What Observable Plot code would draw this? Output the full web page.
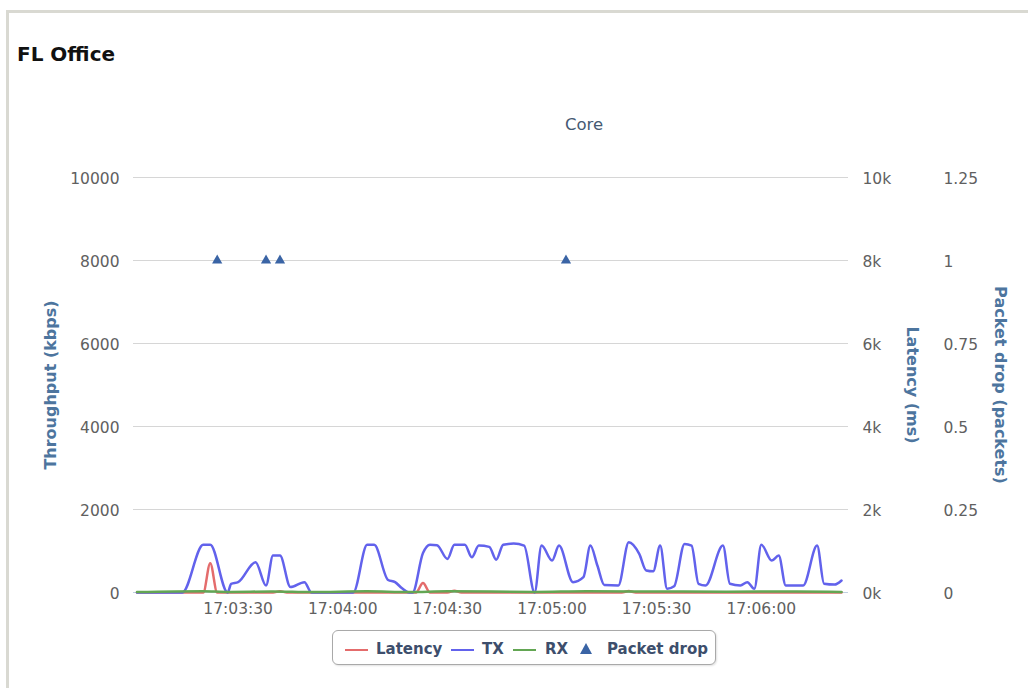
<!DOCTYPE html>
<html>
<head>
<meta charset="utf-8">
<script src="https://cdn.jsdelivr.net/npm/d3@7"></script>
<script src="https://cdn.jsdelivr.net/npm/@observablehq/plot@0.6"></script>
<style>
  body { margin: 0; background: #fff; font-family: "DejaVu Sans", sans-serif; }
  #wrap { position: relative; width: 1028px; height: 688px; overflow: hidden; background: #fff; }
  #frame { position: absolute; left: 6px; top: 9.5px; width: 1100px; height: 800px; border: 3.5px solid #d9d9d2; }
  #title { position: absolute; left: 17px; top: 42px; font-weight: bold; font-size: 20px; color: #111; white-space: nowrap; }
  #subtitle { position: absolute; left: 484px; width: 200px; text-align: center; top: 115px; font-size: 16.5px; color: #465a72; }
  #chart { position: absolute; left: 0; top: 150px; }
  #legend { position: absolute; left: 332px; top: 630px; width: 382px; height: 33px; border: 1.5px solid #a9a9a9; border-radius: 6px; background: #fff; box-shadow: 1px 1px 2px rgba(0,0,0,0.12); }
  #legend .sw { position: absolute; top: 17.5px; height: 2.5px; width: 23px; }
  #legend .lab { position: absolute; top: 9px; font-weight: bold; font-size: 15px; color: #3d4e6c; white-space: nowrap; }
  #legend .tri { position: absolute; top: 12px; width: 0; height: 0; border-left: 6.5px solid transparent; border-right: 6.5px solid transparent; border-bottom: 11px solid #3a64a5; }
</style>
</head>
<body>
<div id="wrap">
  <div id="frame"></div>
  <div id="title">FL Office</div>
  <div id="subtitle">Core</div>
  <div id="chart"></div>
  <div id="legend"></div>
</div>
<script>
// ---- data ----
const day = "2014-05-20T";
const xStart = "17:03:00";
const xEnd = "17:06:25";
const xTicks = ["17:03:30", "17:04:00", "17:04:30", "17:05:00", "17:05:30", "17:06:00"];
const yTicks = [0, 2000, 4000, 6000, 8000, 10000];
const packetPerUnit = 8000; // 1 packet on the right axis = 8000 on the throughput axis (1.25 -> 10000)

const seriesNames = ["Latency", "TX", "RX", "Packet drop"];
const seriesColors = ["#e46c6c", "#6262ec", "#63a653", "#3a64a5"];

const txTimes = ["17:03:01","17:03:14","17:03:20","17:03:22","17:03:27","17:03:28","17:03:30","17:03:35","17:03:38","17:03:40",
  "17:03:42","17:03:45","17:03:49","17:03:51","17:04:03","17:04:07","17:04:09","17:04:13","17:04:15","17:04:17",
  "17:04:19","17:04:20","17:04:23","17:04:25","17:04:27","17:04:30","17:04:32","17:04:35","17:04:37","17:04:39",
  "17:04:42","17:04:44","17:04:46","17:04:49","17:04:52","17:04:55","17:04:57","17:05:00","17:05:02","17:05:06",
  "17:05:09","17:05:11","17:05:13","17:05:15","17:05:19","17:05:22","17:05:25","17:05:27","17:05:29","17:05:31",
  "17:05:33","17:05:35","17:05:38","17:05:40","17:05:42","17:05:44","17:05:49","17:05:51","17:05:54","17:05:56",
  "17:05:58","17:06:00","17:06:03","17:06:05","17:06:07","17:06:09","17:06:12","17:06:16","17:06:18","17:06:21","17:06:23"];
const txValues = [0,0,1150,1150,0,210,250,730,170,890,
  890,130,250,0,0,1150,1150,300,250,100,
  0,0,950,1150,1140,810,1150,1150,850,1130,
  1100,790,1150,1180,1130,0,1130,770,1130,250,
  370,1130,650,180,170,1210,930,530,510,1130,
  90,150,1170,1130,210,170,1130,210,170,250,
  90,1150,770,890,170,170,170,1130,210,190,290];

const latTimes = ["17:03:01","17:03:20","17:03:22","17:03:24","17:03:40","17:03:42","17:03:44","17:04:21","17:04:23","17:04:25",
  "17:04:30","17:04:32","17:04:34","17:05:20","17:05:22","17:05:24","17:06:23"];
const latValues = [0,0,705,0,0,30,0,0,230,0,0,40,0,0,35,0,0];

const rxTimes = ["17:03:01","17:03:20","17:03:27","17:03:40","17:03:51","17:04:07","17:04:19","17:04:30","17:04:55","17:05:10",
  "17:05:30","17:05:50","17:06:10","17:06:23"];
const rxValues = [10,30,15,25,10,30,10,30,15,30,25,20,25,15];

const dropTimes = ["17:03:24","17:03:38","17:03:42","17:05:04"];
const dropValues = [1,1,1,1];

// ---- build ----
const parse = s => new Date(day + s + "Z");
const tx = txTimes.map((t, i) => ({time: parse(t), value: txValues[i]}));
const lat = latTimes.map((t, i) => ({time: parse(t), value: latValues[i]}));
const rx = rxTimes.map((t, i) => ({time: parse(t), value: rxValues[i]}));
const drops = dropTimes.map((t, i) => ({time: parse(t), value: dropValues[i]}));

const tickColor = "#606060";
const titleColor = "#4d759e";

const chart = Plot.plot({
  width: 1028,
  height: 470,
  marginLeft: 133,
  marginRight: 180,
  marginTop: 27,
  marginBottom: 28,
  style: {fontFamily: "DejaVu Sans, sans-serif", fontSize: "15.5px", background: "transparent", overflow: "visible"},
  x: {type: "utc", domain: [parse(xStart), parse(xEnd)]},
  y: {domain: [0, 10000]},
  marks: [
    Plot.gridY(yTicks, {stroke: "#d6d6d6", strokeOpacity: 1}),
    Plot.ruleY([0], {stroke: "#c0d0e0"}),
    Plot.axisY(yTicks, {anchor: "left", tickSize: 0, tickPadding: 14, dy: 2, fill: tickColor, label: null,
      tickFormat: d => String(d)}),
    Plot.axisY(yTicks, {anchor: "right", tickSize: 0, tickPadding: 14, dy: 2, fill: tickColor, label: null,
      tickFormat: d => (d / 1000) + "k"}),
    Plot.axisY(yTicks, {anchor: "right", tickSize: 0, tickPadding: 14, dx: 81, dy: 2, fill: tickColor, label: null,
      tickFormat: d => String(d / packetPerUnit)}),
    Plot.axisX(xTicks.map(parse), {anchor: "bottom", tickSize: 0, tickPadding: 10, fill: tickColor, label: null,
      tickFormat: d3.utcFormat("%H:%M:%S")}),
    Plot.line(lat, {x: "time", y: "value", stroke: seriesColors[0], strokeWidth: 2.5, curve: "monotone-x"}),
    Plot.line(tx, {x: "time", y: "value", stroke: seriesColors[1], strokeWidth: 2.5, curve: "monotone-x"}),
    Plot.line(rx, {x: "time", y: "value", stroke: seriesColors[2], strokeWidth: 2.5, curve: "monotone-x"}),
    Plot.dot(drops, {x: "time", y: d => d.value * packetPerUnit, symbol: "triangle", r: 3.8, fill: seriesColors[3], stroke: null}),
    Plot.text(["Throughput (kbps)"], {frameAnchor: "left", textAnchor: "middle", lineAnchor: "middle", rotate: -90, dx: -83, fontWeight: "bold", fontSize: 16, fill: titleColor}),
    Plot.text(["Latency (ms)"], {frameAnchor: "right", textAnchor: "middle", lineAnchor: "middle", rotate: 90, dx: 64, fontWeight: "bold", fontSize: 16, fill: titleColor}),
    Plot.text(["Packet drop (packets)"], {frameAnchor: "right", textAnchor: "middle", lineAnchor: "middle", rotate: 90, dx: 152, fontWeight: "bold", fontSize: 16, fill: titleColor})
  ]
});
document.getElementById("chart").appendChild(chart);

// ---- legend ----
const legend = document.getElementById("legend");
const layout = [
  {sw: 12, lab: 43},
  {sw: 118, lab: 149},
  {sw: 180, lab: 212},
  {sw: 247, lab: 274}
];
seriesNames.forEach((name, i) => {
  const s = document.createElement("div");
  if (i < 3) {
    s.className = "sw";
    s.style.background = seriesColors[i];
  } else {
    s.className = "tri";
    s.style.borderBottomColor = seriesColors[i];
  }
  s.style.left = layout[i].sw + "px";
  legend.appendChild(s);
  const l = document.createElement("div");
  l.className = "lab";
  l.textContent = name;
  l.style.left = layout[i].lab + "px";
  legend.appendChild(l);
});
</script>
</body>
</html>
